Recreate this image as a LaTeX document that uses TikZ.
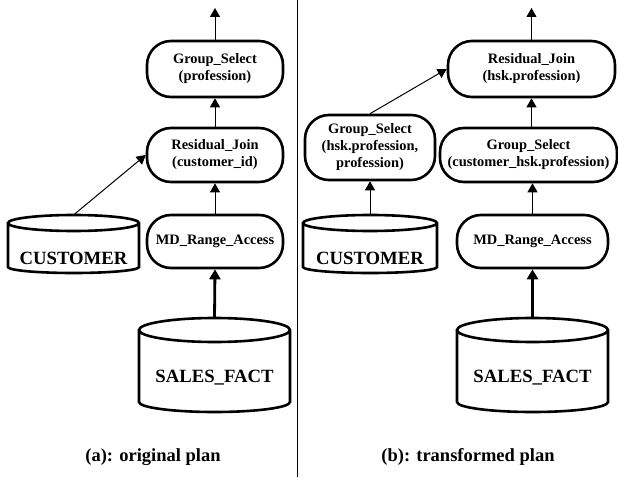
\documentclass[tikz,border=0pt]{standalone}
\usepackage{fontspec}
\setmainfont{Liberation Serif}
\usetikzlibrary{arrows.meta}
\newcommand\dbcyl[6]{%
  \draw[dbline] ({#1-#4},{#2-#5}) -- ({#1-#4},{#3+#6})
    arc[start angle=180,end angle=360,x radius=#4,y radius=#6]
    -- ({#1+#4},{#2-#5})
    arc[start angle=0,end angle=180,x radius=#4,y radius=#5]
    arc[start angle=180,end angle=360,x radius=#4,y radius=#5];}
\begin{document}
\begin{tikzpicture}[x=1pt,y=1pt,
  op/.style={draw,line width=2.6pt,rounded corners=24pt,align=center,
    font=\fontsize{14.4}{17}\selectfont\bfseries,inner sep=0pt},
  dbline/.style={line width=2.6pt},
  dbtext/.style={font=\fontsize{18.7}{20}\selectfont\bfseries,inner sep=0pt},
  captext/.style={font=\fontsize{18.5}{20}\selectfont\bfseries,inner sep=0pt},
  thinarr/.style={line width=1pt,-{Triangle[length=9pt,width=10pt]}},
  thickarr/.style={line width=2.8pt,-{Triangle[length=10pt,width=11pt]}}]
\useasboundingbox (0,0) rectangle (618,477);
\draw[line width=1pt] (297,0) -- (297,477);
% left plan
\node[op,minimum width=136pt,minimum height=56pt] (gs1) at (215,408) {Group\_Select\\(profession)};
\node[op,minimum width=136pt,minimum height=54pt] (rj1) at (215,322) {Residual\_Join\\(customer\_id)};
\node[op,minimum width=136pt,minimum height=53pt] (md1) at (215,235.5) {MD\_Range\_Access};
\dbcyl{73.5}{262}{204}{65.5}{8}{6}
\node[dbtext] (cust1) at (73.5,219) {CUSTOMER};
\coordinate (cust1top) at (73.5,262);
\dbcyl{214.5}{159}{65}{75.5}{12}{10}
\node[dbtext] (sf1) at (214.5,99) {SALES\_FACT};
\coordinate (sf1top) at (214.5,159);
\coordinate (out1) at (215,469);
\node[captext] (capa) at (153,20) {(a): original plan};
\draw[thinarr] (gs1.north) -- (out1);
\draw[thinarr] (rj1.north) -- (gs1.south);
\draw[thinarr] (md1.north) -- (rj1.south);
\draw[thinarr] (cust1top) -- (rj1.west);
\draw[thickarr] (sf1top) -- (md1.south);
% right plan
\node[op,minimum width=167pt,minimum height=56pt] (rj2) at (531.5,408) {Residual\_Join\\(hsk.profession)};
\node[op,minimum width=177pt,minimum height=54pt] (gs2b) at (528.5,322) {Group\_Select\\(customer\_hsk.profession)};
\node[op,minimum width=151pt,minimum height=53pt] (md2) at (532.5,235.5) {MD\_Range\_Access};
\node[op,minimum width=130pt,minimum height=65pt] (gs2a) at (370,329.5) {Group\_Select\\(hsk.profession,\\profession)};
\dbcyl{370}{262}{204}{67}{8}{6}
\node[dbtext] (cust2) at (370,219) {CUSTOMER};
\coordinate (cust2top) at (370,262);
\dbcyl{532.5}{159}{65}{75.5}{12}{10}
\node[dbtext] (sf2) at (532.5,99) {SALES\_FACT};
\coordinate (sf2top) at (532.5,159);
\coordinate (out2) at (531.5,469);
\node[captext] (capb) at (468,20) {(b): transformed plan};
\draw[thinarr] (rj2.north) -- (out2);
\draw[thinarr] (gs2b.north -| rj2.north) -- (rj2.south);
\draw[thinarr] (md2.north) -- (md2.north |- gs2b.south);
\draw[thinarr] (cust2top) -- (gs2a.south);
\draw[thinarr] (gs2a.north) -- (rj2.west);
\draw[thickarr] (sf2top) -- (md2.south);
\end{tikzpicture}
\end{document}
